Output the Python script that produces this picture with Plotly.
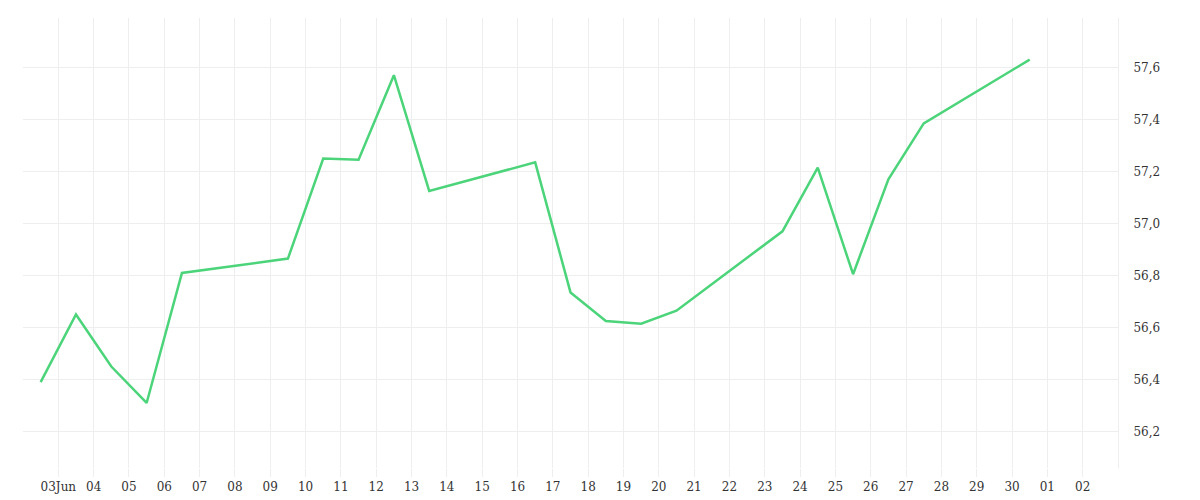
import plotly.graph_objects as go
import pandas as pd

dates = ['2023-06-02 12:00', '2023-06-03 12:00', '2023-06-04 12:00', '2023-06-05 12:00',
         '2023-06-06 12:00', '2023-06-09 12:00', '2023-06-10 12:00', '2023-06-11 12:00',
         '2023-06-12 12:00', '2023-06-13 12:00', '2023-06-16 12:00', '2023-06-17 12:00',
         '2023-06-18 12:00', '2023-06-19 12:00', '2023-06-20 12:00', '2023-06-23 12:00',
         '2023-06-24 12:00', '2023-06-25 12:00', '2023-06-26 12:00', '2023-06-27 12:00',
         '2023-06-30 12:00']
values = [56.39, 56.65, 56.45, 56.31, 56.81, 56.865, 57.25, 57.245, 57.57, 57.125,
          57.235, 56.735, 56.625, 56.615, 56.665, 56.97, 57.215, 56.805, 57.17, 57.385,
          57.63]

tick_dates = pd.date_range('2023-06-03', '2023-07-02', freq='D')
tick_text = ['03Jun'] + [d.strftime('%d') for d in tick_dates[1:]]

fig = go.Figure(go.Scatter(
    x=pd.to_datetime(dates), y=values, mode='lines',
    line=dict(color='#4cd47a', width=2.5),
))
fig.update_layout(
    width=1200, height=500,
    margin=dict(l=15, r=90, t=10, b=40),
    plot_bgcolor='white', paper_bgcolor='white',
    separators=',.',
    showlegend=False,
    font=dict(family='DejaVu Serif', size=12, color='#333'),
)
fig.update_xaxes(
    range=['2023-06-02', '2023-07-03'],
    tickvals=tick_dates, ticktext=tick_text,
    showgrid=True, gridcolor='#eeeeee',
    ticks='outside', ticklen=8, tickcolor='#eeeeee',
    showline=False, zeroline=False, automargin=False,
)
fig.update_yaxes(
    side='right', range=[56.06, 57.79],
    dtick=0.2, tickformat='.1f',
    showgrid=True, gridcolor='#eeeeee',
    showline=True, linecolor='#eeeeee',
    zeroline=False, ticks='', ticklabelstandoff=12, automargin=False,
)
fig.write_html('out.html')
